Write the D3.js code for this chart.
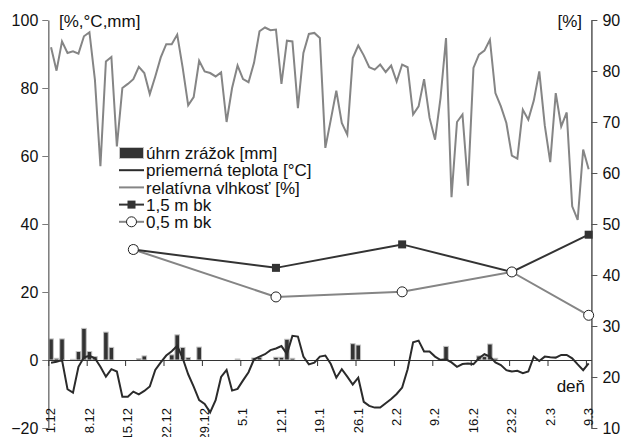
<!DOCTYPE html>
<html>
<head>
<meta charset="utf-8">
<script src="https://cdn.jsdelivr.net/npm/d3@7"></script>
<style>
  body { margin: 0; background: #fff; }
  svg { font-family: "Liberation Sans", Arial, sans-serif; }
</style>
</head>
<body>
<svg id="chart" width="625" height="437"></svg>
<script>
// x tick labels (every 7 days, 1.12 .. 9.3)
var tickLabels = ['1.12', '8.12', '15.12', '22.12', '29.12', '5.1', '12.1', '19.1', '26.1', '2.2', '9.2', '16.2', '23.2', '2.3', '9.3'];

// daily values from 1.12 to 9.3
var humidity = [
  92.0, 85.1, 93.7, 90.3, 90.8, 90.1, 95.2, 96.4, 82.4, 57.0,
  87.8, 89.1, 62.8, 80.0, 81.2, 82.6, 86.2, 84.4, 78.2, 83.4,
  89.0, 92.9, 92.9, 95.7, 85.9, 74.9, 77.3, 88.0, 84.9, 84.4,
  83.4, 84.6, 70.0, 80.0, 86.6, 82.6, 81.7, 87.4, 96.7, 97.8,
  97.0, 97.2, 81.2, 93.9, 93.7, 74.1, 90.3, 95.9, 96.2, 94.7,
  62.4, 70.7, 79.2, 69.7, 66.3, 88.8, 92.5, 89.6, 86.1, 85.4,
  86.9, 84.7, 86.6, 81.9, 86.9, 86.1, 72.2, 74.6, 82.6, 71.2,
  64.8, 77.1, 94.7, 47.9, 70.0, 72.2, 51.3, 85.9, 89.8, 91.0,
  94.2, 78.5, 74.6, 69.7, 60.1, 59.2, 73.6, 70.7, 76.3, 84.9,
  69.0, 58.2, 78.5, 68.7, 72.8, 45.2, 41.2, 61.9, 56.1
];

var temperature = [
  -0.8, -0.5, 0.0, -8.6, -9.6, -2.0, 0.8, 1.2, 0.5, -2.0,
  -4.9, -2.7, -3.4, -10.8, -10.8, -9.3, -10.1, -9.1, -7.8, -2.9,
  -0.7, 1.3, 2.6, 4.2, 0.5, -4.2, -7.8, -11.8, -12.9, -15.4,
  -11.8, -5.0, -2.9, -9.0, -8.5, -6.0, -3.6, 0.2, 1.0, 1.7,
  2.9, 3.4, 4.1, 1.8, 7.1, 6.9, 1.0, -1.3, -0.8, 1.0,
  1.3, -1.2, -5.2, -2.7, -4.9, -7.2, -5.2, -12.3, -13.5, -14.0,
  -14.0, -12.7, -11.5, -10.0, -8.1, -2.7, 5.2, 5.7, 2.5, 2.5,
  1.0, 0.0, 0.2, -0.7, -2.0, -1.2, -1.0, -1.2, 0.5, 1.7,
  1.0, -0.7, -1.5, -3.0, -3.4, -3.2, -3.9, -3.4, 1.0, -0.3,
  1.0, 0.8, 0.7, 1.5, 1.5, 0.5, -1.3, -3.0, -1.0
];

var precipitation = [
  6.2, 0.5, 6.2, 0, 0.2, 2.5, 9.3, 2.5, 1.0, 0,
  8.2, 3.7, 0, 0, 0, 0, 0.4, 1.2, 0, 0,
  0, 0, 1.5, 7.4, 3.7, 0.7, 0, 3.8, 0, 0,
  0, 0, 0, 0, 0.3, 0, 0, 0.6, 0.8, 0,
  0, 0.8, 0.8, 6.1, 0.5, 0, 0, 0, 0, 0,
  0, 0, 0, 0, 0, 4.8, 4.4, 0, 0, 0,
  0, 0, 0, 0, 0, 0, 0, 0, 0, 0,
  0, 0.3, 4.0, 0, 0, 0, 0, 0, 1.2, 1.0,
  4.7, 0.5, 0, 0, 0, 0, 0, 0, 0, 0,
  0, 0, 0, 0, 0, 0, 0, 0, 0
];

// soil moisture [%] (right axis)
var soilDates = ['16.12', '11.1', '3.2', '23.2', '9.3'];
var soil15 = [45.0, 41.4, 46.0, 40.6, 47.9];
var soil05 = [45.0, 35.7, 36.7, 40.6, 32.1];

var leftTicks = [-20, 0, 20, 40, 60, 80, 100];
var rightTicks = [10, 20, 30, 40, 50, 60, 70, 80, 90];

function parseDay(s) {
  var p = s.split('.');
  var m = +p[1];
  return new Date(Date.UTC(m === 12 ? 2010 : 2011, m - 1, +p[0]));
}
var start = parseDay('1.12');
function dayDate(i) { return d3.utcHour.offset(d3.utcDay.offset(start, i), 12); }
function midDate(s) { return d3.utcHour.offset(parseDay(s), 12); }

var svg = d3.select('#chart');

var x = d3.scaleUtc()
    .domain([start, parseDay('10.3')])
    .range([48.3, 591.4]);
var yL = d3.scaleLinear().domain([-20, 100]).range([428, 20]);
var yR = d3.scaleLinear().domain([10, 90]).range([428, 20]);

// precipitation bars
var slot = x(d3.utcDay.offset(start, 1)) - x(start);
svg.append('g').selectAll('rect')
  .data(precipitation.map(function(v, i) { return {i: i, v: v}; }).filter(function(d) { return d.v > 0; }))
  .enter().append('rect')
    .attr('x', function(d) { return x(dayDate(d.i)) - slot * 0.42; })
    .attr('width', slot * 0.84)
    .attr('y', function(d) { return yL(d.v); })
    .attr('height', function(d) { return yL(0) - yL(d.v); })
    .attr('fill', '#333')
    .attr('stroke', '#c4c4c4')
    .attr('stroke-width', 1);

// axes
var gL = svg.append('g')
    .attr('transform', 'translate(48.3,0)')
    .call(d3.axisLeft(yL).tickValues(leftTicks).tickSize(6).tickSizeOuter(0));
gL.select('.domain').attr('stroke', '#7a7a7a').attr('stroke-width', 1.5);
gL.selectAll('.tick line').attr('stroke', '#7a7a7a');
gL.selectAll('.tick text').attr('font-size', 16).attr('fill', '#111').attr('x', -10);

var gR = svg.append('g')
    .attr('transform', 'translate(591.4,0)')
    .call(d3.axisRight(yR).tickValues(rightTicks).tickSize(6).tickSizeOuter(0));
gR.select('.domain').attr('stroke', '#555').attr('stroke-width', 1.5);
gR.selectAll('.tick line').attr('stroke', '#555');
gR.selectAll('.tick text').attr('font-size', 16).attr('fill', '#111').attr('x', 11);

var tickDates = tickLabels.map(parseDay);
var gX = svg.append('g')
    .attr('transform', 'translate(0,' + yL(0) + ')')
    .call(d3.axisBottom(x).tickValues(tickDates).tickSize(6).tickSizeOuter(0));
gX.select('.domain').attr('stroke', '#333').attr('stroke-width', 1.2);
gX.selectAll('.tick line').attr('stroke', '#333');
gX.selectAll('.tick text').remove();

svg.append('g').selectAll('text')
  .data(tickLabels)
  .enter().append('text')
    .attr('transform', function(d) { return 'translate(' + x(parseDay(d)) + ',408) rotate(-90)'; })
    .attr('text-anchor', 'end')
    .attr('dy', '0.55em')
    .attr('font-size', 13)
    .attr('fill', '#111')
    .text(function(d) { return d; });

// lines
var lineL = d3.line()
    .x(function(d, i) { return x(dayDate(i)); })
    .y(function(d) { return yL(d); });

svg.append('path')
    .attr('d', lineL(temperature))
    .attr('fill', 'none')
    .attr('stroke', '#2b2b2b')
    .attr('stroke-width', 2);

svg.append('path')
    .attr('d', lineL(humidity))
    .attr('fill', 'none')
    .attr('stroke', '#858585')
    .attr('stroke-width', 2);

var lineR = d3.line()
    .x(function(d, i) { return x(midDate(soilDates[i])); })
    .y(function(d) { return yR(d); });

svg.append('path')
    .attr('d', lineR(soil05))
    .attr('fill', 'none')
    .attr('stroke', '#858585')
    .attr('stroke-width', 2);

svg.append('path')
    .attr('d', lineR(soil15))
    .attr('fill', 'none')
    .attr('stroke', '#333')
    .attr('stroke-width', 2);

svg.append('g').selectAll('rect')
  .data(soil15)
  .enter().append('rect')
    .attr('x', function(d, i) { return x(midDate(soilDates[i])) - 4; })
    .attr('y', function(d) { return yR(d) - 4; })
    .attr('width', 8)
    .attr('height', 8)
    .attr('fill', '#333');

svg.append('g').selectAll('circle')
  .data(soil05)
  .enter().append('circle')
    .attr('cx', function(d, i) { return x(midDate(soilDates[i])); })
    .attr('cy', function(d) { return yR(d); })
    .attr('r', 5)
    .attr('fill', '#fff')
    .attr('stroke', '#222')
    .attr('stroke-width', 1);

// axis titles
svg.append('text').attr('x', 59).attr('y', 27).attr('font-size', 17).attr('fill', '#111').text('[%,°C,mm]');
svg.append('text').attr('x', 582).attr('y', 27).attr('font-size', 17).attr('fill', '#111').attr('text-anchor', 'end').text('[%]');
svg.append('text').attr('x', 585).attr('y', 392).attr('font-size', 17).attr('fill', '#111').attr('text-anchor', 'end').text('deň');

// legend
var legendItems = [
  {label: 'úhrn zrážok [mm]', type: 'bar'},
  {label: 'priemerná teplota [°C]', type: 'line', color: '#2b2b2b'},
  {label: 'relatívna vlhkosť [%]', type: 'line', color: '#858585'},
  {label: '1,5 m bk', type: 'square', color: '#333'},
  {label: '0,5 m bk', type: 'circle', color: '#858585'}
];

var legend = svg.append('g').attr('transform', 'translate(119,153)');
var items = legend.selectAll('g')
  .data(legendItems)
  .enter().append('g')
    .attr('transform', function(d, i) { return 'translate(0,' + (i * 17.2) + ')'; });

items.each(function(d) {
  var g = d3.select(this);
  if (d.type === 'bar') {
    g.append('rect').attr('x', 0.5).attr('y', -5.5).attr('width', 24).attr('height', 11)
      .attr('fill', '#333').attr('stroke', '#c4c4c4');
  } else {
    g.append('line').attr('x1', 0).attr('x2', 25).attr('y1', 0).attr('y2', 0)
      .attr('stroke', d.color).attr('stroke-width', 2);
  }
  if (d.type === 'square') {
    g.append('rect').attr('x', 8.5).attr('y', -4).attr('width', 8).attr('height', 8).attr('fill', '#333');
  }
  if (d.type === 'circle') {
    g.append('circle').attr('cx', 12.5).attr('cy', 0).attr('r', 5)
      .attr('fill', '#fff').attr('stroke', '#222');
  }
  g.append('text').attr('x', 27).attr('y', 0).attr('dy', '0.36em')
    .attr('font-size', 17).attr('fill', '#111').text(d.label);
});
</script>
</body>
</html>
